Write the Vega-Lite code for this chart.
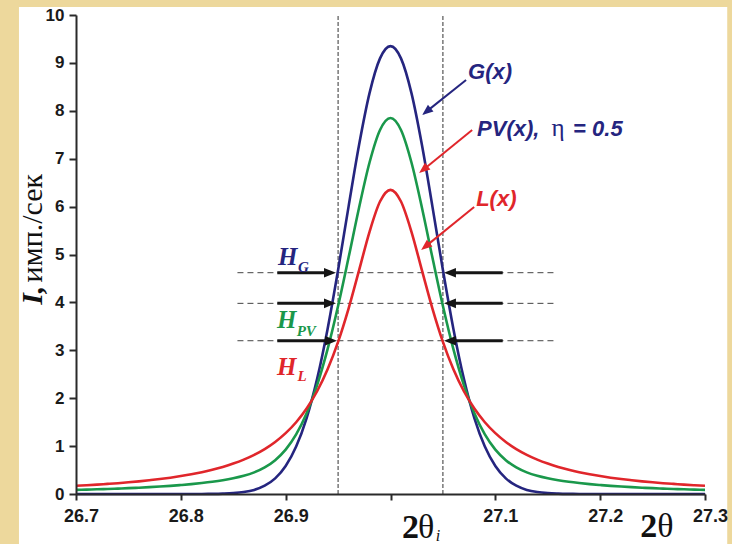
{
  "$schema": "https://vega.github.io/schema/vega-lite/v6.json",
  "width": 629,
  "height": 479,
  "autosize": {"type": "none"},
  "padding": {"left": 76, "top": 15, "right": 27, "bottom": 50},
  "background": "#EDD89C",
  "config": {
    "view": {"stroke": null},
    "axis": {
      "grid": false,
      "domainColor": "#2a2a2a",
      "domainWidth": 2,
      "tickColor": "#2a2a2a",
      "tickWidth": 2,
      "labelFont": "Liberation Sans",
      "labelFontWeight": "bold",
      "labelFontSize": 17,
      "labelColor": "#1a1a1a"
    }
  },
  "datasets": {
    "curves": [
      {"x": 26.70, "G": 0, "PV": 0.086, "L": 0.172},
      {"x": 26.71, "G": 0, "PV": 0.092, "L": 0.183},
      {"x": 26.72, "G": 0, "PV": 0.098, "L": 0.196},
      {"x": 26.73, "G": 0, "PV": 0.105, "L": 0.211},
      {"x": 26.74, "G": 0, "PV": 0.113, "L": 0.226},
      {"x": 26.75, "G": 0, "PV": 0.122, "L": 0.244},
      {"x": 26.76, "G": 0, "PV": 0.132, "L": 0.264},
      {"x": 26.77, "G": 0, "PV": 0.143, "L": 0.287},
      {"x": 26.78, "G": 0, "PV": 0.156, "L": 0.312},
      {"x": 26.79, "G": 0, "PV": 0.170, "L": 0.341},
      {"x": 26.80, "G": 0, "PV": 0.187, "L": 0.374},
      {"x": 26.81, "G": 0, "PV": 0.206, "L": 0.411},
      {"x": 26.82, "G": 0.001, "PV": 0.228, "L": 0.455},
      {"x": 26.83, "G": 0.003, "PV": 0.254, "L": 0.506},
      {"x": 26.84, "G": 0.008, "PV": 0.286, "L": 0.565},
      {"x": 26.85, "G": 0.018, "PV": 0.327, "L": 0.635},
      {"x": 26.86, "G": 0.041, "PV": 0.379, "L": 0.718},
      {"x": 26.87, "G": 0.086, "PV": 0.452, "L": 0.818},
      {"x": 26.88, "G": 0.173, "PV": 0.556, "L": 0.939},
      {"x": 26.89, "G": 0.326, "PV": 0.707, "L": 1.087},
      {"x": 26.90, "G": 0.584, "PV": 0.927, "L": 1.270},
      {"x": 26.91, "G": 0.990, "PV": 1.244, "L": 1.498},
      {"x": 26.92, "G": 1.586, "PV": 1.685, "L": 1.784},
      {"x": 26.93, "G": 2.403, "PV": 2.274, "L": 2.145},
      {"x": 26.94, "G": 3.446, "PV": 3.024, "L": 2.602},
      {"x": 26.95, "G": 4.675, "PV": 3.925, "L": 3.175},
      {"x": 26.96, "G": 6.000, "PV": 4.936, "L": 3.872},
      {"x": 26.97, "G": 7.285, "PV": 5.977, "L": 4.669},
      {"x": 26.98, "G": 8.368, "PV": 6.921, "L": 5.474},
      {"x": 26.99, "G": 9.094, "PV": 7.600, "L": 6.106},
      {"x": 27.00, "G": 9.350, "PV": 7.850, "L": 6.350},
      {"x": 27.01, "G": 9.094, "PV": 7.600, "L": 6.106},
      {"x": 27.02, "G": 8.368, "PV": 6.921, "L": 5.474},
      {"x": 27.03, "G": 7.285, "PV": 5.977, "L": 4.669},
      {"x": 27.04, "G": 6.000, "PV": 4.936, "L": 3.872},
      {"x": 27.05, "G": 4.675, "PV": 3.925, "L": 3.175},
      {"x": 27.06, "G": 3.446, "PV": 3.024, "L": 2.602},
      {"x": 27.07, "G": 2.403, "PV": 2.274, "L": 2.145},
      {"x": 27.08, "G": 1.586, "PV": 1.685, "L": 1.784},
      {"x": 27.09, "G": 0.990, "PV": 1.244, "L": 1.498},
      {"x": 27.10, "G": 0.584, "PV": 0.927, "L": 1.270},
      {"x": 27.11, "G": 0.326, "PV": 0.707, "L": 1.087},
      {"x": 27.12, "G": 0.173, "PV": 0.556, "L": 0.939},
      {"x": 27.13, "G": 0.086, "PV": 0.452, "L": 0.818},
      {"x": 27.14, "G": 0.041, "PV": 0.379, "L": 0.718},
      {"x": 27.15, "G": 0.018, "PV": 0.327, "L": 0.635},
      {"x": 27.16, "G": 0.008, "PV": 0.286, "L": 0.565},
      {"x": 27.17, "G": 0.003, "PV": 0.254, "L": 0.506},
      {"x": 27.18, "G": 0.001, "PV": 0.228, "L": 0.455},
      {"x": 27.19, "G": 0, "PV": 0.206, "L": 0.411},
      {"x": 27.20, "G": 0, "PV": 0.187, "L": 0.374},
      {"x": 27.21, "G": 0, "PV": 0.170, "L": 0.341},
      {"x": 27.22, "G": 0, "PV": 0.156, "L": 0.312},
      {"x": 27.23, "G": 0, "PV": 0.143, "L": 0.287},
      {"x": 27.24, "G": 0, "PV": 0.132, "L": 0.264},
      {"x": 27.25, "G": 0, "PV": 0.122, "L": 0.244},
      {"x": 27.26, "G": 0, "PV": 0.113, "L": 0.226},
      {"x": 27.27, "G": 0, "PV": 0.105, "L": 0.211},
      {"x": 27.28, "G": 0, "PV": 0.098, "L": 0.196},
      {"x": 27.29, "G": 0, "PV": 0.092, "L": 0.183},
      {"x": 27.30, "G": 0, "PV": 0.086, "L": 0.172}
    ]
  },
  "encoding": {
    "x": {
      "field": "x",
      "type": "quantitative",
      "scale": {"domain": [26.7, 27.3], "nice": false, "zero": false},
      "axis": {
        "title": null,
        "zindex": 2,
        "values": [26.7, 26.8, 26.9, 27.0, 27.1, 27.2, 27.3],
        "labelExpr": "abs(datum.value - 27) < 0.001 ? '' : format(datum.value, '.1f')",
        "labelFontSize": 18,
        "tickSize": 6,
        "labelPadding": 7,
        "labelOffset": 5,
        "labelOverlap": false,
        "labelBound": false,
        "labelFlush": false
      }
    },
    "y": {
      "field": "y",
      "type": "quantitative",
      "scale": {"domain": [0, 10], "nice": false},
      "axis": {
        "title": null,
        "zindex": 2,
        "values": [0, 1, 2, 3, 4, 5, 6, 7, 8, 9, 10],
        "format": "d",
        "tickSize": 7,
        "labelPadding": 5
      }
    }
  },
  "layer": [
    {
      "data": {"values": [{"x": 26.6456, "x2": 27.3212, "y": -1.05, "y2": 10.167}]},
      "mark": {"type": "rect", "fill": "white"},
      "encoding": {"x2": {"field": "x2"}, "y2": {"field": "y2"}}
    },
    {
      "data": {"values": [{"x": 26.95, "y": 0, "y2": 10}, {"x": 27.05, "y": 0, "y2": 10}]},
      "mark": {"type": "rule", "color": "#333333", "strokeWidth": 1, "strokeDash": [4, 2]},
      "encoding": {"y2": {"field": "y2"}}
    },
    {
      "data": {"values": [
        {"x": 26.854, "x2": 27.159, "y": 4.62},
        {"x": 26.854, "x2": 27.159, "y": 3.98},
        {"x": 26.854, "x2": 27.159, "y": 3.2}
      ]},
      "mark": {"type": "rule", "color": "#444444", "strokeWidth": 1, "strokeDash": [6, 4]},
      "encoding": {"x2": {"field": "x2"}}
    },
    {
      "data": {"name": "curves"},
      "transform": [{"fold": ["G", "PV", "L"], "as": ["s", "y"]}],
      "mark": {"type": "line", "strokeWidth": 2.6, "interpolate": "monotone"},
      "encoding": {
        "color": {"field": "s", "type": "nominal", "scale": {"domain": ["G", "PV", "L"], "range": ["#25257F", "#1A984B", "#E0262B"]}, "legend": null}
      }
    },
    {
      "data": {"values": [
        {"x": 26.892, "x2": 26.941, "y": 4.62},
        {"x": 26.892, "x2": 26.941, "y": 3.98},
        {"x": 26.892, "x2": 26.942, "y": 3.2},
        {"x": 27.107, "x2": 27.058, "y": 4.62},
        {"x": 27.107, "x2": 27.058, "y": 3.98},
        {"x": 27.107, "x2": 27.058, "y": 3.2}
      ]},
      "mark": {"type": "rule", "color": "#151515", "strokeWidth": 3},
      "encoding": {"x2": {"field": "x2"}}
    },
    {
      "data": {"values": [{"x": 26.948, "y": 4.62}, {"x": 26.948, "y": 3.98}, {"x": 26.949, "y": 3.2}]},
      "mark": {"type": "point", "shape": "M0,0L-1,-0.4L-1,0.4Z", "filled": true, "size": 576, "color": "#151515", "opacity": 1, "angle": 0, "strokeWidth": 0}
    },
    {
      "data": {"values": [{"x": 27.051, "y": 4.62}, {"x": 27.051, "y": 3.98}, {"x": 27.051, "y": 3.2}]},
      "mark": {"type": "point", "shape": "M0,0L-1,-0.4L-1,0.4Z", "filled": true, "size": 576, "color": "#151515", "opacity": 1, "angle": 180, "strokeWidth": 0}
    },
    {
      "data": {"values": [
        {"x": 27.0721, "y": 8.643, "x2": 27.0339, "y2": 7.977, "s": "G"},
        {"x": 27.0779, "y": 7.599, "x2": 27.0310, "y2": 6.766, "s": "L"},
        {"x": 27.0798, "y": 5.992, "x2": 27.0329, "y2": 5.159, "s": "L"}
      ]},
      "mark": {"type": "rule", "strokeWidth": 2},
      "encoding": {
        "x2": {"field": "x2"},
        "y2": {"field": "y2"},
        "color": {"field": "s", "type": "nominal", "scale": {"domain": ["G", "PV", "L"], "range": ["#25257F", "#1A984B", "#E0262B"]}, "legend": null}
      }
    },
    {
      "data": {"values": [
        {"x": 27.0302, "y": 7.912, "s": "G"},
        {"x": 27.0273, "y": 6.701, "s": "L"},
        {"x": 27.0292, "y": 5.094, "s": "L"}
      ]},
      "mark": {"type": "point", "shape": "M0,0L-1,-0.4L-1,0.4Z", "filled": true, "size": 484, "opacity": 1, "angle": 141, "strokeWidth": 0},
      "encoding": {
        "color": {"field": "s", "type": "nominal", "scale": {"domain": ["G", "PV", "L"], "range": ["#25257F", "#1A984B", "#E0262B"]}, "legend": null}
      }
    },
    {
      "data": {"values": [
        {"x": 27.074, "y": 8.664, "t": "G(x)", "s": "G"},
        {"x": 27.0826, "y": 7.474, "t": "PV(x),", "s": "G"},
        {"x": 27.1742, "y": 7.474, "t": "= 0.5", "s": "G"},
        {"x": 27.0817, "y": 6.013, "t": "L(x)", "s": "L"}
      ]},
      "mark": {"type": "text", "font": "Liberation Sans", "fontSize": 22, "fontWeight": "bold", "fontStyle": "italic", "align": "left", "baseline": "alphabetic"},
      "encoding": {
        "text": {"field": "t"},
        "color": {"field": "s", "type": "nominal", "scale": {"domain": ["G", "PV", "L"], "range": ["#25257F", "#1A984B", "#E0262B"]}, "legend": null}
      }
    },
    {
      "data": {"values": [{"x": 27.1535, "y": 7.474, "t": "η"}]},
      "mark": {"type": "text", "font": "Liberation Serif", "fontSize": 25, "align": "left", "baseline": "alphabetic", "color": "#25257F"},
      "encoding": {"text": {"field": "t"}}
    },
    {
      "data": {"values": [
        {"x": 26.8927, "y": 4.781, "t": "H", "s": "G"},
        {"x": 26.8918, "y": 3.466, "t": "H", "s": "PV"},
        {"x": 26.8918, "y": 2.484, "t": "H", "s": "L"}
      ]},
      "mark": {"type": "text", "font": "Liberation Serif", "fontSize": 25, "fontWeight": "bold", "fontStyle": "italic", "align": "left", "baseline": "alphabetic"},
      "encoding": {
        "text": {"field": "t"},
        "color": {"field": "s", "type": "nominal", "scale": {"domain": ["G", "PV", "L"], "range": ["#25257F", "#1A984B", "#E0262B"]}, "legend": null}
      }
    },
    {
      "data": {"values": [
        {"x": 26.9118, "y": 4.635, "t": "G", "s": "G"},
        {"x": 26.9105, "y": 3.299, "t": "PV", "s": "PV"},
        {"x": 26.9114, "y": 2.359, "t": "L", "s": "L"}
      ]},
      "mark": {"type": "text", "font": "Liberation Serif", "fontSize": 15, "fontWeight": "bold", "fontStyle": "italic", "align": "left", "baseline": "alphabetic"},
      "encoding": {
        "text": {"field": "t"},
        "color": {"field": "s", "type": "nominal", "scale": {"domain": ["G", "PV", "L"], "range": ["#25257F", "#1A984B", "#E0262B"]}, "legend": null}
      }
    },
    {
      "data": {"values": [{"x": 26.6676, "y": 4.15, "t": "I,"}]},
      "mark": {"type": "text", "font": "Liberation Serif", "fontSize": 30, "fontWeight": "bold", "fontStyle": "italic", "angle": 270, "align": "center", "baseline": "alphabetic", "color": "#111111"},
      "encoding": {"text": {"field": "t"}}
    },
    {
      "data": {"values": [{"x": 26.6676, "y": 5.55, "t": "имп./сек"}]},
      "mark": {"type": "text", "font": "Liberation Serif", "fontSize": 30, "angle": 270, "align": "center", "baseline": "alphabetic", "color": "#111111"},
      "encoding": {"text": {"field": "t"}}
    },
    {
      "data": {"values": [{"x": 27.011, "y": -0.92, "t": "2"}, {"x": 27.2382, "y": -0.9, "t": "2"}]},
      "mark": {"type": "text", "font": "Liberation Serif", "fontSize": 34, "fontWeight": "bold", "align": "left", "baseline": "alphabetic", "color": "#111111"},
      "encoding": {"text": {"field": "t"}}
    },
    {
      "data": {"values": [{"x": 27.0263, "y": -0.92, "t": "θ"}, {"x": 27.2544, "y": -0.9, "t": "θ"}]},
      "mark": {"type": "text", "font": "Liberation Serif", "fontSize": 34, "align": "left", "baseline": "alphabetic", "color": "#111111"},
      "encoding": {"text": {"field": "t"}}
    },
    {
      "data": {"values": [{"x": 27.0432, "y": -0.99, "t": "i"}]},
      "mark": {"type": "text", "font": "Liberation Serif", "fontSize": 16, "fontStyle": "italic", "align": "left", "baseline": "alphabetic", "color": "#111111"},
      "encoding": {"text": {"field": "t"}}
    }
  ]
}
